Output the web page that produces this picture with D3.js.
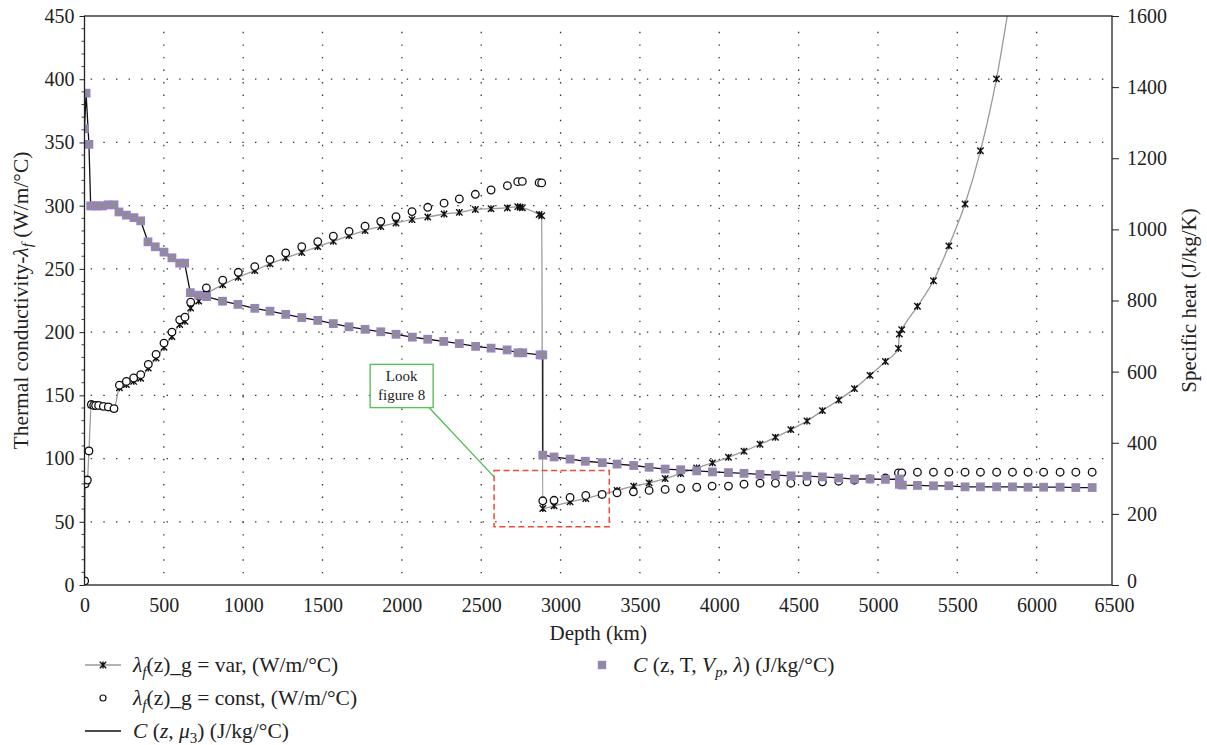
<!DOCTYPE html>
<html><head><meta charset="utf-8">
<script src="https://cdn.jsdelivr.net/npm/d3@7"></script>
<style>
body{margin:0;background:#fff;}
svg{display:block;}
svg text{font-family:"Liberation Serif","Times New Roman",serif !important;}
</style></head><body>
<svg id="chart" width="1207" height="745"></svg>
<script>
// ---------- data ----------
const depthVar = [1,5,18,28,43,58,70,89,119,150,186,220,264,310,354,402,451,501,551,600,633,669,720,768,871,969,1073,1169,1268,1369,1470,1568,1667,1768,1867,1963,2064,2163,2266,2362,2463,2562,2665,2730,2745,2759,2865,2881,2888,2959,3060,3159,3260,3356,3461,3558,3659,3757,3858,3957,4058,4156,4257,4354,4451,4553,4650,4753,4852,4950,5047,5129,5135,5150,5249,5350,5447,5549,5646,5747,5850];
const lambdaVar = [3.2,80,83,106,142.7,142,142,142,141.3,140.8,139.5,156,158.5,161,163.5,171.5,179.5,188,196.5,206,208.5,219,224.5,230,237.4,243.4,248.7,254,258.7,263,267.6,271.8,276.3,280.3,283.4,286.3,289,291,293.4,294.7,297,297.6,298.2,299.2,298.7,298.4,293,292,60.5,62.6,65.8,68.4,71.6,74.8,78.2,80.8,84.2,88.2,92.6,96.6,101,105.8,111.3,116.8,122.9,129.7,137.9,146.3,155.3,165.8,176.8,187.1,198.4,202,220.4,240.6,268.2,301.3,343.4,400.3,478];

const depthConst = [1,5,18,28,43,58,70,89,119,150,186,220,264,310,354,402,451,501,551,600,633,669,720,768,871,969,1073,1169,1268,1369,1470,1568,1667,1768,1867,1963,2064,2163,2266,2362,2463,2562,2665,2730,2759,2865,2881,2888,2959,3060,3159,3262,3356,3459,3558,3659,3757,3858,3955,4058,4156,4257,4354,4451,4553,4650,4753,4852,4950,5047,5129,5150,5249,5350,5447,5549,5646,5748,5848,5946,6044,6148,6247,6350];
const lambdaConst = [3.2,80,83,106,142.7,142,142,142,141.3,140.8,139.5,158,161,163.7,166.3,174.5,182.4,191.3,200,209.7,211.8,223.7,229,235,241,247.3,251.8,257.4,262.6,267.6,271.6,275.8,279.7,283.8,287.6,291.3,295.3,298.7,302,305.3,309,312.4,315.8,319,319.2,318.2,318,66.6,67,69.2,70.8,71.6,72.9,73.7,74.8,75.6,76.3,77.3,78.2,78.2,79.7,80.5,80.5,80.5,81.6,81.6,82.1,82.9,83.9,84.7,88.7,88.7,89.2,89.2,89.2,89.2,89.2,89.2,89.2,89.2,89.2,89.2,89.2,89.2];

const depthC = [0,10,28,39,60,85,115,148,186,217,264,312,354,400,446,501,551,600,631,667,720,770,870,967,1073,1169,1268,1369,1470,1568,1667,1768,1867,1963,2066,2163,2264,2362,2465,2562,2663,2732,2762,2871,2888,2888,2959,3060,3156,3263,3356,3461,3558,3659,3757,3858,3957,4058,4156,4257,4354,4453,4553,4650,4753,4852,4950,5047,5135,5135,5154,5249,5350,5447,5549,5646,5748,5848,5946,6044,6148,6247,6350];
const specificHeat = [1283,1383,1239,1066,1066,1066,1066,1069,1069,1049,1040,1033,1024,965,951,936,920,905,905,822,815,811,798,789,778,770,761,752,744,735,726,719,712,705,697,691,685,679,671,666,661,653,653,647,647,365,360,354,348,344,340,336,331,326,324,321,318,316,314,311,309,307,306,304,301,298,298,297,298,283,281,280,279,279,276,276,276,276,275,275,275,274,274];

const xTicks = [0,500,1000,1500,2000,2500,3000,3500,4000,4500,5000,5500,6000,6500];
const yLeftTicks = [0,50,100,150,200,250,300,350,400,450];
const yRightTicks = [0,200,400,600,800,1000,1200,1400,1600];

// annotation (data coordinates: depth km, left-axis units)
const noteBox = {x0:1800, x1:2197, y0:174.5, y1:140.3, lines:["Look","figure 8"]};
const zoomBox = {x0:2581, x1:3307, y0:90.6, y1:46};
const noteLink = {x0:2168, y0:140.8, x1:2581, y1:85.5};

// ---------- layout ----------
const FONT = '"Liberation Serif","Times New Roman",serif';
const L = 84.5, R = 1112, T = 16, B = 585;
const svg = d3.select("#chart").style("font-family", FONT);
const x = d3.scaleLinear().domain([0,6475]).range([L,R]);
const yL = d3.scaleLinear().domain([0,450]).range([B,T]);
const yR = d3.scaleLinear().domain([0,1600]).range([B,T]);

svg.append("defs").append("clipPath").attr("id","clip")
  .append("rect").attr("x",L).attr("y",T).attr("width",R-L).attr("height",B-T);

// gridlines
const grid = svg.append("g");
xTicks.filter(d=>d>0 && x(d)<R-2).forEach(d=>{
  grid.append("line").attr("x1",x(d)).attr("x2",x(d)).attr("y1",573.3).attr("y2",26)
    .attr("stroke","#333").attr("stroke-width",1.3).attr("stroke-dasharray","1.4 11.16");
});
yLeftTicks.filter(d=>d>0 && d<450).forEach(d=>{
  grid.append("line").attr("x1",90.7).attr("x2",1106).attr("y1",yL(d)).attr("y2",yL(d))
    .attr("stroke","#333").attr("stroke-width",1.3).attr("stroke-dasharray","1.4 11.24");
});

const plot = svg.append("g").attr("clip-path","url(#clip)");

const varData = depthVar.map((d,i)=>({d, v:lambdaVar[i]}));
const constData = depthConst.map((d,i)=>({d, v:lambdaConst[i]}));
const cData = depthC.map((d,i)=>({d, v:specificHeat[i]}));

// var line (gray)
plot.append("path").datum(varData)
  .attr("d", d3.line().x(p=>x(p.d)).y(p=>yL(p.v)).curve(d3.curveMonotoneX))
  .attr("fill","none").attr("stroke","#9a9a9a").attr("stroke-width",1.3);

const star = "M-3.2,-3.2L3.2,3.2M-3.2,3.2L3.2,-3.2M0,-3.4L0,3.4";
plot.append("g").selectAll("path").data(varData.filter(p=>p.v<=450)).join("path")
  .attr("transform",p=>`translate(${x(p.d)},${yL(p.v)})`)
  .attr("d",star).attr("fill","none").attr("stroke","#111").attr("stroke-width",1.4);

// C line (black)
plot.append("path").datum(cData)
  .attr("d", d3.line().x(p=>x(p.d)).y(p=>yR(p.v)))
  .attr("fill","none").attr("stroke","#111").attr("stroke-width",1.3);

// circles
plot.append("g").selectAll("circle").data(constData).join("circle")
  .attr("cx",p=>x(p.d)).attr("cy",p=>yL(p.v)).attr("r",3.8)
  .attr("fill","#fff").attr("stroke","#111").attr("stroke-width",1.3);

// squares
plot.append("g").selectAll("rect").data(cData).join("rect")
  .attr("x",p=>x(p.d)-3.6).attr("y",p=>yR(p.v)-3.6).attr("width",7.2).attr("height",7.2)
  .attr("fill","#8e8e8e").attr("stroke","#9a80c6").attr("stroke-width",1.6);

// annotations
svg.append("rect").attr("x",x(zoomBox.x0)).attr("y",yL(zoomBox.y0))
  .attr("width",x(zoomBox.x1)-x(zoomBox.x0)).attr("height",yL(zoomBox.y1)-yL(zoomBox.y0))
  .attr("fill","none").attr("stroke","#ee4a35").attr("stroke-width",1.5).attr("stroke-dasharray","6 3.5");
svg.append("line").attr("x1",x(noteLink.x0)).attr("y1",yL(noteLink.y0)).attr("x2",x(noteLink.x1)).attr("y2",yL(noteLink.y1))
  .attr("stroke","#4cb84c").attr("stroke-width",1.2);
svg.append("rect").attr("x",x(noteBox.x0)).attr("y",yL(noteBox.y0))
  .attr("width",x(noteBox.x1)-x(noteBox.x0)).attr("height",yL(noteBox.y1)-yL(noteBox.y0))
  .attr("fill","#fff").attr("stroke","#5cbf5c").attr("stroke-width",1.4);
const ncx = (x(noteBox.x0)+x(noteBox.x1))/2;
noteBox.lines.forEach((t,i)=>{
  svg.append("text").attr("x",ncx).attr("y",yL(noteBox.y0)+17+i*18.5)
    .attr("text-anchor","middle").attr("font-size",15).attr("fill","#222").text(t);
});

// axes
const ax = svg.append("g");
const bottom = ax.append("g").attr("transform",`translate(0,${B})`)
  .call(d3.axisBottom(x).tickValues(xTicks).tickSize(0).tickPadding(13).tickFormat(d3.format("d")));
const left = ax.append("g").attr("transform",`translate(${L},0)`)
  .call(d3.axisLeft(yL).tickValues(yLeftTicks).tickSize(5).tickPadding(5).tickFormat(d3.format("d")));
const right = ax.append("g").attr("transform",`translate(${R},0)`)
  .call(d3.axisRight(yR).tickValues(yRightTicks).tickSize(7).tickPadding(8).tickFormat(d3.format("d")));
[bottom,left,right].forEach(g=>{
  g.attr("font-family", null).attr("font-size", null);
  g.select(".domain").remove();
  g.selectAll("text").attr("fill","#222").style("font-family",FONT).style("font-size","20px");
  g.selectAll("line").attr("stroke","#222");
});
// keep the right-axis "0" clear of the bottom "6500"
right.selectAll(".tick").filter(d=>d===0).select("text").attr("dy","0.1em");
bottom.selectAll(".tick").filter(d=>d===6500).select("text").attr("dx","-0.1em");
// minor ticks on left axis
ax.append("g").selectAll("line").data(d3.range(0,451,10).filter(v=>v%50!==0)).join("line")
  .attr("x1",L-3).attr("x2",L).attr("y1",v=>yL(v)).attr("y2",v=>yL(v)).attr("stroke","#444").attr("stroke-width",1);

// frame
svg.append("rect").attr("x",L).attr("y",T).attr("width",R-L).attr("height",B-T)
  .attr("fill","none").attr("stroke","#222").attr("stroke-width",1.3);

// axis titles
svg.append("text").attr("transform",`translate(28,${(T+B)/2}) rotate(-90)`)
  .attr("text-anchor","middle").attr("font-size",21.5).attr("fill","#222")
  .call(t=>{
    t.append("tspan").text("Thermal conductivity-");
    t.append("tspan").attr("font-style","italic").text("λ");
    t.append("tspan").attr("font-style","italic").attr("font-size",15).attr("dy",4).text("f");
    t.append("tspan").attr("dy",-4).text(" (W/m/°C)");
  });
svg.append("text").attr("transform",`translate(1196,${(T+B)/2}) rotate(-90)`)
  .attr("text-anchor","middle").attr("font-size",21).attr("fill","#222").text("Specific heat (J/kg/K)");
svg.append("text").attr("x",(L+R)/2).attr("y",640).attr("text-anchor","middle")
  .attr("font-size",21).attr("fill","#222").text("Depth (km)");

// legend
const lg = svg.append("g").attr("font-size",21.5).attr("fill","#222");
const rows = [665, 698, 731];
// row 1: var
lg.append("line").attr("x1",85).attr("x2",121).attr("y1",rows[0]).attr("y2",rows[0]).attr("stroke","#9a9a9a").attr("stroke-width",1.3);
lg.append("path").attr("transform",`translate(103,${rows[0]})`).attr("d",star).attr("fill","none").attr("stroke","#111").attr("stroke-width",1.4);
lg.append("text").attr("x",133).attr("y",rows[0]+6.5).call(t=>{
  t.append("tspan").attr("font-style","italic").text("λ");
  t.append("tspan").attr("font-style","italic").attr("font-size",15).attr("dy",5).text("f");
  t.append("tspan").attr("dy",-5).text("(z)_g = var, (W/m/°C)");
});
// row 2: const
lg.append("circle").attr("cx",103).attr("cy",rows[1]).attr("r",3).attr("fill","#fff").attr("stroke","#111").attr("stroke-width",1.2);
lg.append("text").attr("x",133).attr("y",rows[1]+6.5).call(t=>{
  t.append("tspan").attr("font-style","italic").text("λ");
  t.append("tspan").attr("font-style","italic").attr("font-size",15).attr("dy",5).text("f");
  t.append("tspan").attr("dy",-5).text("(z)_g = const, (W/m/°C)");
});
// row 3: C(z, mu3)
lg.append("line").attr("x1",85).attr("x2",121).attr("y1",rows[2]).attr("y2",rows[2]).attr("stroke","#111").attr("stroke-width",1.4);
lg.append("text").attr("x",133).attr("y",rows[2]+6.5).call(t=>{
  t.append("tspan").attr("font-style","italic").text("C");
  t.append("tspan").text(" (");
  t.append("tspan").attr("font-style","italic").text("z");
  t.append("tspan").text(", ");
  t.append("tspan").attr("font-style","italic").text("μ");
  t.append("tspan").attr("font-size",15).attr("dy",5).text("3");
  t.append("tspan").attr("dy",-5).text(") (J/kg/°C)");
});
// right column: squares
lg.append("rect").attr("x",602-3.5).attr("y",rows[0]-3.5).attr("width",7).attr("height",7)
  .attr("fill","#8e8e8e").attr("stroke","#9a80c6").attr("stroke-width",1.4);
lg.append("text").attr("x",633).attr("y",rows[0]+6.5).call(t=>{
  t.append("tspan").attr("font-style","italic").text("C");
  t.append("tspan").text(" (z, T, ");
  t.append("tspan").attr("font-style","italic").text("V");
  t.append("tspan").attr("font-style","italic").attr("font-size",15).attr("dy",5).text("p");
  t.append("tspan").attr("dy",-5).text(", ");
  t.append("tspan").attr("font-style","italic").text("λ");
  t.append("tspan").text(") (J/kg/°C)");
});
</script>
</body></html>
